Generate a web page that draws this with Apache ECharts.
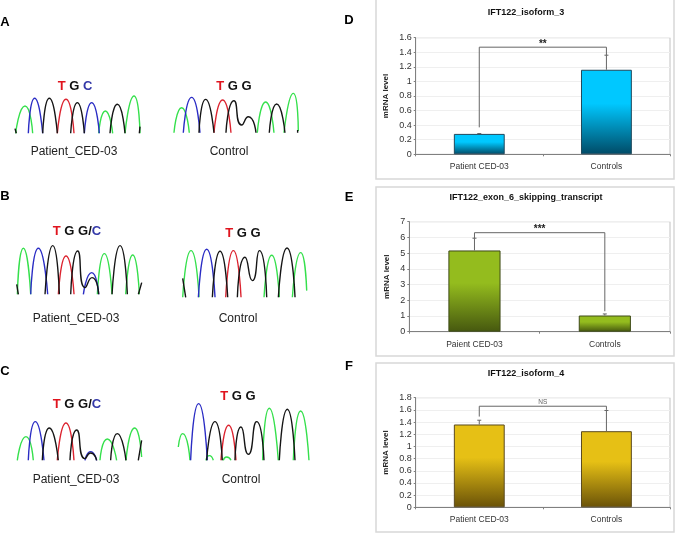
<!DOCTYPE html>
<html>
<head>
<meta charset="utf-8">
<style>
  html, body { margin: 0; padding: 0; background: #fff; }
  #chart { width: 675px; height: 533px; }
</style>
<script src="https://cdn.jsdelivr.net/npm/echarts@6/dist/echarts.min.js"></script>
</head>
<body>
<div id="chart"></div>
<script>
// bar panels
const groupsD = ['Patient CED-03', 'Controls'];
const groupsE = ['Paient CED-03', 'Controls'];
const groupsF = ['Patient CED-03', 'Controls'];
const valuesD = [0.28, 1.16];
const valuesE = [5.17, 1.03];
const valuesF = [1.36, 1.25];
const upperD = [0.285, 1.36];
const upperE = [5.95, 1.13];
const upperF = [1.43, 1.59];
// bracket: left end, top, right end
const bracketD = [0.37, 1.47, 1.36];
const bracketE = [5.95, 6.3, 1.3];
const bracketF = [1.49, 1.66, 1.6];

const a1Green = [[[2,0],[30,82],[53,0]], [[251,0],[271,67],[293,0]], [[330,0],[357,112],[375,0]]];
const a1Blue = [[[40,0],[59,105],[83,0]], [[208,0],[230,92],[253,0]]];
const a1Black = [[[0,14],[4,0]], [[83,0],[103,105],[127,0]], [[167,0],[187,92],[208,0]], [[285,0],[307,87],[330,0]], [[373,0],[375,20]]];
const a1Red = [[[127,0],[153,102],[177,0]]];

const a2Green = [[[2,0],[25,75],[48,0]], [[252,0],[277,92],[302,0]], [[332,0],[360,118],[375,5]]];
const a2Blue = [[[30,0],[55,106],[80,0]]];
const a2Black = [[[77,0],[97,100],[122,0]], [[158,0],[182,96],[205,23],[225,48],[248,0]], [[288,0],[310,86],[335,0]], [[373,8],[373,0]]];
const a2Red = [[[122,0],[148,98],[173,0]]];

const b1Green = [[[2,0],[20,138],[42,0]], [[242,0],[263,122],[286,0]], [[327,0],[348,118],[368,0]]];
const b1Blue = [[[42,0],[65,138],[93,0]], [[200,0],[225,65],[246,0]]];
const b1Black = [[[0,30],[5,0]], [[85,0],[108,146],[128,0]], [[162,0],[183,130],[205,20],[226,50],[246,0]], [[286,0],[310,146],[332,0]], [[365,0],[375,35]]];
const b1Red = [[[125,0],[148,115],[172,0]]];

const b2Green = [[[3,0],[28,140],[52,0]], [[247,0],[270,126],[293,0]], [[332,0],[357,134],[375,20]]];
const b2Blue = [[[50,0],[75,144],[100,0]]];
const b2Black = [[[3,57],[12,0]], [[92,0],[115,138],[138,0]], [[167,0],[190,120],[212,50],[233,140],[255,0]], [[290,0],[316,148],[340,0]]];
const b2Red = [[[132,0],[155,140],[178,0]]];

const c1Green = [[[0,0],[26,71],[48,0]], [[248,0],[270,64],[298,0]], [[326,0],[352,97],[373,10]]];
const c1Blue = [[[33,0],[54,116],[80,0]], [[203,0],[220,26],[238,0]]];
const c1Black = [[[75,0],[96,97],[123,0]], [[158,0],[178,91],[203,5],[220,22],[238,0]], [[280,0],[300,80],[326,0]], [[363,0],[373,60]]];
const c1Red = [[[120,0],[146,112],[170,0]]];

const c2Green = [[[0,40],[13,80],[35,0]], [[83,0],[93,14],[105,0]], [[135,0],[145,10],[158,0]], [[253,0],[273,156],[300,0]], [[345,0],[367,148],[392,0]]];
const c2Blue = [[[37,0],[61,170],[87,0]]];
const c2Black = [[[85,0],[110,116],[132,0]], [[170,0],[188,100],[210,18],[235,116],[257,0]], [[303,0],[327,153],[350,0]]];
const c2Red = [[[128,0],[151,105],[173,0]]];

const traceColors = { green: '#35e04c', blue: '#2a2cc4', black: '#151515', red: '#dc2430' };
const myChart = echarts.init(document.getElementById('chart'));

const grids = [];
const xAxes = [];
const yAxes = [];
const series = [];
const titles = [];

function addText(text, left, top, style) {
    titles.push({
        text: text, left: left, top: top, textAlign: 'center', textVerticalAlign: 'middle',
        padding: 0, textStyle: Object.assign({ fontFamily: 'Liberation Sans', fontWeight: 'normal' }, style)
    });
}

function flatten(peaks) {
    const out = [];
    peaks.forEach(function (p, i) {
        if (i > 0) out.push(['-', '-']);
        p.forEach(function (d) { out.push(d); });
    });
    return out;
}

function addTrace(left, baseline, units, green, blue, black, red) {
    const idx = grids.length;
    grids.push({ left: left, top: baseline - 60, width: units / 3, height: 60 });
    xAxes.push({ gridIndex: idx, type: 'value', min: 0, max: units, show: false });
    yAxes.push({ gridIndex: idx, type: 'value', min: 0, max: 180, show: false });
    [[green, 'green'], [blue, 'blue'], [red, 'red'], [black, 'black']].forEach(function (t) {
        series.push({
            type: 'line', xAxisIndex: idx, yAxisIndex: idx, data: flatten(t[0]), smooth: 0.7,
            symbol: 'none', silent: true, clip: false,
            lineStyle: { color: traceColors[t[1]], width: 1.4 }
        });
    });
}

function addBars(box, title, groups, values, upper, bracket, sign, maxV, step, nameGap, c) {
    const idx = grids.length;
    grids.push({
        left: box[0], top: box[1], width: box[2] - box[0], height: box[3] - box[1],
        show: true, borderColor: '#c2c2c2', borderWidth: 1, backgroundColor: '#fff'
    });
    xAxes.push({
        gridIndex: idx, type: 'category', data: groups,
        axisLine: { lineStyle: { color: '#808080' } },
        axisTick: { show: true, length: 2, lineStyle: { color: '#808080' } },
        axisLabel: { color: '#333', fontSize: 8.5, fontFamily: 'Liberation Sans', margin: 8 }
    });
    yAxes.push({
        gridIndex: idx, type: 'value', min: 0, max: maxV, interval: step,
        name: 'mRNA level', nameLocation: 'middle', nameGap: nameGap, nameRotate: 90,
        nameTextStyle: { color: '#222', fontSize: 8, fontWeight: 'bold', fontFamily: 'Liberation Sans' },
        axisLine: { show: true, lineStyle: { color: '#808080' } },
        axisTick: { show: true, length: 2, lineStyle: { color: '#808080' } },
        axisLabel: { color: '#333', fontSize: 9, fontFamily: 'Liberation Sans', margin: 4 },
        splitLine: { lineStyle: { color: '#efefef' } }
    });
    series.push({
        type: 'bar', xAxisIndex: idx, yAxisIndex: idx, data: values, barWidth: '40%', silent: true,
        itemStyle: {
            borderColor: c[2], borderWidth: 1,
            color: new echarts.graphic.LinearGradient(0, 0, 0, 1, [
                { offset: 0, color: c[0] }, { offset: 0.4, color: c[0] }, { offset: 1, color: c[1] }
            ])
        }
    });
    // upper error bars
    series.push({
        type: 'custom', xAxisIndex: idx, yAxisIndex: idx, silent: true, z: 3,
        data: values.map(function (v, i) { return [i, v, upper[i]]; }),
        encode: { x: 0, y: [1, 2] },
        renderItem: function (params, api) {
            const a = api.coord([api.value(0), api.value(1)]);
            const b = api.coord([api.value(0), api.value(2)]);
            const style = { stroke: '#666', lineWidth: 1, fill: null };
            return {
                type: 'group', children: [
                    { type: 'line', shape: { x1: a[0], y1: a[1], x2: b[0], y2: b[1] }, style: style },
                    { type: 'line', shape: { x1: b[0] - 2, y1: b[1], x2: b[0] + 2, y2: b[1] }, style: style }
                ]
            };
        }
    });
    // significance bracket
    series.push({
        type: 'custom', xAxisIndex: idx, yAxisIndex: idx, silent: true, z: 3, clip: false,
        data: [[0, bracket[0], bracket[1], bracket[2]]],
        encode: { x: 0, y: [1, 2, 3] },
        renderItem: function (params, api) {
            const p1 = api.coord([0, api.value(1)]);
            const p2 = api.coord([0, api.value(2)]);
            const p3 = api.coord([1, api.value(2)]);
            const p4 = api.coord([1, api.value(3)]);
            const isNs = sign === 'NS';
            return {
                type: 'group', children: [
                    { type: 'polyline', shape: { points: [p1, p2, p3, p4] }, style: { stroke: '#666', lineWidth: 1, fill: null } },
                    {
                        type: 'text', x: (p2[0] + p3[0]) / 2, y: p2[1] - (isNs ? 4 : 3),
                        style: { text: sign, fill: isNs ? '#666' : '#222', font: (isNs ? '6.5px' : 'bold 10px') + ' Liberation Sans', align: 'center', verticalAlign: 'middle' }
                    }
                ]
            };
        }
    });
    addText(title[0], title[1], title[2], { color: '#111', fontSize: 9, fontWeight: 'bold', fontFamily: 'Liberation Sans' });
}

// chromatograms
addTrace(15, 133.3, 375, a1Green, a1Blue, a1Black, a1Red);
addTrace(173.3, 132.7, 375, a2Green, a2Blue, a2Black, a2Red);
addTrace(16.7, 294.3, 375, b1Green, b1Blue, b1Black, b1Red);
addTrace(181.7, 297.3, 375, b2Green, b2Blue, b2Black, b2Red);
addTrace(17.3, 460.3, 375, c1Green, c1Blue, c1Black, c1Red);
addTrace(178.3, 460.3, 392, c2Green, c2Blue, c2Black, c2Red);

// bar charts
addBars([415.7, 37.7, 670, 154.3], ['IFT122_isoform_3', 526, 13], groupsD, valuesD, upperD, bracketD, '**', 1.6, 0.2, 26, ['#00c8ff', '#004a66', '#20485c']);
addBars([409.3, 221.7, 670, 331.7], ['IFT122_exon_6_skipping_transcript', 526, 198], groupsE, valuesE, upperE, bracketE, '***', 7, 1, 19, ['#94bc1e', '#46580f', '#3e4a18']);
addBars([415.7, 397.7, 670, 507.3], ['IFT122_isoform_4', 526, 374], groupsF, valuesF, upperF, bracketF, 'NS', 1.8, 0.2, 26, ['#e6c015', '#6a5208', '#5a4a20']);

// panel letters
const letterStyle = { color: '#000', fontSize: 13, fontWeight: 'bold' };
[['A', 5, 22], ['B', 5, 196], ['C', 5, 371], ['D', 349, 20], ['E', 349, 197], ['F', 349, 366]].forEach(function (l) {
    addText(l[0], l[1], l[2], letterStyle);
});

// captions
const captionStyle = { color: '#222', fontSize: 12 };
[['Patient_CED-03', 74, 152], ['Control', 229, 152], ['Patient_CED-03', 76, 319], ['Control', 238, 319],
 ['Patient_CED-03', 76, 480], ['Control', 241, 480]].forEach(function (l) {
    addText(l[0], l[1], l[2], captionStyle);
});

// base calls above the traces
const baseRich = {
    r: { color: '#e0141e', fontSize: 13, fontWeight: 'bold', fontFamily: 'Liberation Sans' },
    k: { color: '#111', fontSize: 13, fontWeight: 'bold', fontFamily: 'Liberation Sans' },
    b: { color: '#3338a8', fontSize: 13, fontWeight: 'bold', fontFamily: 'Liberation Sans' }
};
[['{r|T} {k|G} {b|C}', 75, 86], ['{r|T} {k|G} {k|G}', 234, 86], ['{r|T} {k|G} {k|G/}{b|C}', 77, 231],
 ['{r|T} {k|G} {k|G}', 243, 233], ['{r|T} {k|G} {k|G/}{b|C}', 77, 404], ['{r|T} {k|G} {k|G}', 238, 396]].forEach(function (l) {
    addText(l[0], l[1], l[2], { rich: baseRich, fontSize: 13 });
});

const option = {
    animation: false,
    backgroundColor: '#fff',
    title: titles,
    grid: grids,
    xAxis: xAxes,
    yAxis: yAxes,
    series: series,
    graphic: [
        { type: 'rect', shape: { x: 376, y: -2, width: 298, height: 181 }, style: { fill: 'none', stroke: '#d8d8d8', lineWidth: 1.5 }, silent: true },
        { type: 'rect', shape: { x: 376, y: 187, width: 298, height: 169 }, style: { fill: 'none', stroke: '#d8d8d8', lineWidth: 1.5 }, silent: true },
        { type: 'rect', shape: { x: 376, y: 363, width: 298, height: 169 }, style: { fill: 'none', stroke: '#d8d8d8', lineWidth: 1.5 }, silent: true }
    ]
};
myChart.setOption(option);
</script>
</body>
</html>
